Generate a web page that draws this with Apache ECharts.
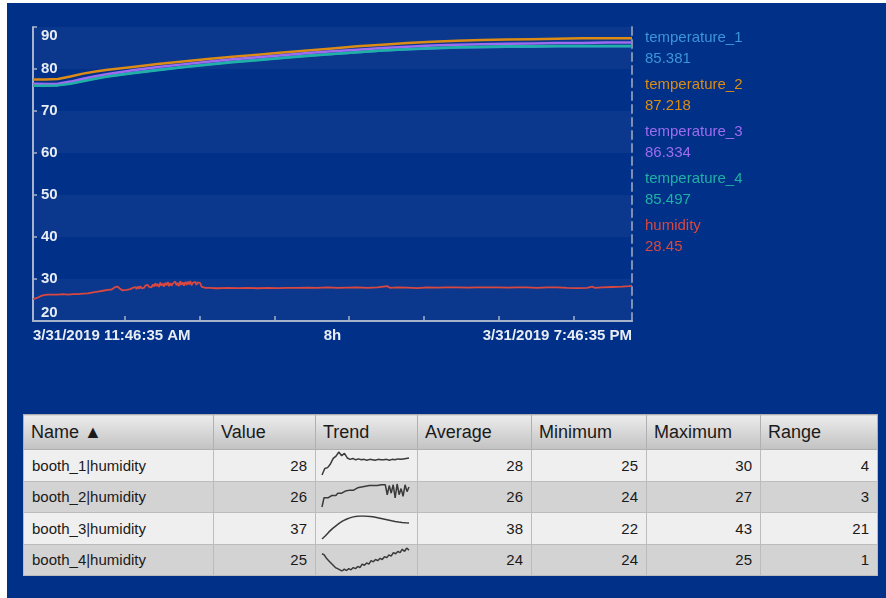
<!DOCTYPE html>
<html><head><meta charset="utf-8">
<script src="https://cdn.jsdelivr.net/npm/echarts@6/dist/echarts.min.js"></script>
<style>
html,body{margin:0;padding:0;background:#fff;width:886px;height:598px;overflow:hidden;font-family:"Liberation Sans",Arial,sans-serif;}
#panel{position:absolute;left:7px;top:3px;width:879px;height:595px;background:#003087;}
#chart{position:absolute;left:0;top:0;width:886px;height:598px;z-index:2;pointer-events:none;}
#tbl{position:absolute;left:23px;top:414px;z-index:1;border-collapse:collapse;table-layout:fixed;width:854px;border:1px solid #9c9c9c;color:#1a1a1a;}
#tbl th{height:35px;padding:0 0 0 7px;font-size:18px;font-weight:normal;text-align:left;background:linear-gradient(#ececec,#c2c2c2);border:1px solid #b0b0b0;box-sizing:border-box;}
#tbl td{height:31.5px;padding:0 8px;font-size:15px;border:1px solid #bcbcbc;box-sizing:border-box;}
#tbl td.num{text-align:right;}
#tbl tr.odd td{background:#efefef;}
#tbl tr.even td{background:#d3d3d3;}
</style></head>
<body>
<div id="panel"></div>
<table id="tbl"></table>
<div id="chart"></div>
<script>
// ---- main chart data (time in minutes from 3/31/2019 11:46:35 AM) ----
const seriesNames = ['temperature_1','temperature_2','temperature_3','temperature_4','humidity'];
const legendValues = ['85.381','87.218','86.334','85.497','28.45'];
const seriesColors = ['#3c94da','#dc8c14','#9d6cf0','#1fb0a6','#d84840'];
const tempTime = [0,10,20,30,40,50,60,80,100,120,140,160,180,200,220,240,260,280,300,320,340,360,380,400,420,440,460,480];
const temperature1 = [76.2,76.1,76.2,76.6,77.2,77.8,78.3,79.1,79.8,80.5,81.1,81.7,82.2,82.7,83.2,83.6,84.0,84.4,84.7,84.9,85.1,85.2,85.3,85.3,85.4,85.4,85.4,85.4];
const temperature2 = [77.5,77.5,77.6,78.2,78.9,79.4,79.8,80.5,81.2,81.8,82.4,82.9,83.4,83.9,84.4,84.9,85.4,85.8,86.2,86.5,86.7,86.9,87.0,87.1,87.2,87.3,87.3,87.3];
const temperature3 = [76.5,76.4,76.5,77.0,77.7,78.3,78.8,79.7,80.5,81.1,81.7,82.3,82.8,83.3,83.8,84.2,84.6,85.0,85.3,85.6,85.8,85.9,86.0,86.1,86.2,86.2,86.3,86.3];
const temperature4 = [76.0,76.0,76.1,76.5,77.1,77.7,78.2,79.0,79.7,80.4,81.0,81.6,82.1,82.6,83.1,83.6,84.0,84.4,84.7,85.0,85.2,85.3,85.4,85.4,85.5,85.5,85.5,85.5];
const humidity = [
 [0,25.2],[2,25.4],[4,25.6],[6,25.9],[8,26.1],[10,26.2],[12,26.3],[16,26.3],[20,26.3],[24,26.4],[28,26.3],[32,26.4],[36,26.4],[40,26.5],[44,26.6],[48,26.8],[52,27.0],[56,27.2],[60,27.4],[63,27.5],[66,28.1],[68,28.2],[70,27.6],[72,27.3],[75,27.4],[78,27.6],
 [80,27.9],[81,27.5],[82,28.1],[83,27.6],[84,28.2],[85,27.7],[86,28.3],[87,27.8],[88,28.2],[89,27.9],[90,28.4],[91,28.0],[92,28.6],[93,28.1],[94,28.5],[95,28.0],[96,28.7],[97,28.2],[98,29.0],[99,28.3],
 [100,28.8],[101,28.1],[102,29.2],[103,28.4],[104,28.9],[105,28.2],[106,29.1],[107,28.5],[108,29.3],[109,28.3],[110,29.0],[111,28.4],[112,28.9],[113,28.6],[114,29.4],[115,28.5],[116,29.1],[117,28.3],[118,29.5],[119,28.6],
 [120,29.2],[121,28.4],[122,29.3],[123,28.6],[124,29.4],[125,28.7],[126,29.5],[127,28.5],[128,29.1],[129,28.7],[130,29.3],[131,28.6],[132,29.2],[133,28.8],[134,29.0],[135,28.2],[136,28.0],[138,27.9],[142,27.9],[146,27.8],
 [148,27.8],[156,27.9],[164,27.85],[172,27.9],[180,27.8],[188,27.9],[196,27.85],[204,27.9],[212,27.9],[220,27.95],[228,27.9],[236,28.0],[244,27.9],[252,27.95],[260,28.0],[268,27.9],[276,28.0],[284,28.3],[286,27.9],[292,28.0],
 [300,27.95],[308,27.85],[316,28.0],[324,27.95],[332,28.0],[340,28.0],[348,27.95],[356,28.0],[364,28.0],[372,28.0],[380,27.95],[388,28.0],[396,28.0],[404,27.9],[412,28.0],[420,28.0],[428,27.9],[436,27.85],[444,27.9],[448,28.2],
 [450,27.9],[456,28.0],[464,28.1],[472,28.2],[478,28.3],[480,28.45]
];
// hour ticks (1 PM ... 7 PM) in minutes after 11:46:35 AM, and labelled positions
const hourTickMinutes = [73.417,133.417,193.417,253.417,313.417,373.417,433.417];
const xLabelMinutes = [0,240,480];
const xLabelTexts = ['3/31/2019 11:46:35 AM','8h','3/31/2019 7:46:35 PM'];

// ---- table data ----
const tableHeaders = ['Name \u25B2','Value','Trend','Average','Minimum','Maximum','Range'];
const columnWidths = [190,102,102,114,115,114,117];
const rowNames = ['booth_1|humidity','booth_2|humidity','booth_3|humidity','booth_4|humidity'];
const rowValues = [28,26,37,25];
const rowAverages = [28,26,38,24];
const rowMinimums = [25,24,22,24];
const rowMaximums = [30,27,43,25];
const rowRanges = [4,3,21,1];
const booth1Trend = [25.0,26.4,26.6,27.4,28.6,29.1,30.0,29.2,29.7,28.7,28.4,28.6,28.3,28.5,28.3,28.4,28.2,28.4,28.3,28.2,28.4,28.3,28.3,28.4,28.2,28.4,28.3,28.5,28.4,28.5,28.6,28.7];
const booth2Trend = [24.0,25.2,25.3,25.2,25.4,25.5,25.6,25.5,25.8,25.9,25.8,26.0,26.1,26.0,26.2,26.3,26.2,26.4,26.5,26.4,26.6,26.5,26.7,26.6,26.8,26.7,26.8,26.9,26.8,27.0,26.9,26.8,26.9,25.6,26.8,25.8,26.9,25.2,27.0,25.6,26.4,25.4,26.9,26.0,26.6];
const booth3Trend = [22,25,28.5,31.5,34,36.5,38.5,40,41.3,42.2,42.7,43,43,42.8,42.5,42,41.4,40.7,40,39.3,38.6,38,37.5,37.1,36.8,36.6];
const booth4Trend = [24.75,24.7,24.55,24.45,24.35,24.25,24.15,24.1,24.05,24.0,24.08,24.02,24.1,24.05,24.15,24.1,24.2,24.15,24.3,24.25,24.35,24.3,24.45,24.4,24.5,24.45,24.55,24.5,24.62,24.58,24.7,24.65,24.8,24.75,24.85,24.8,24.95,24.85,25.0,24.9];
const trends = [booth1Trend,booth2Trend,booth3Trend,booth4Trend];

// ---- build table ----
const tbl = document.getElementById('tbl');
let html = '<colgroup>' + columnWidths.map(w=>'<col style="width:'+w+'px">').join('') + '</colgroup>';
html += '<tr>' + tableHeaders.map(h=>'<th>'+h+'</th>').join('') + '</tr>';
rowNames.forEach((n,i)=>{
  html += '<tr class="'+(i%2===0?'odd':'even')+'"><td>'+n+'</td><td class="num">'+rowValues[i]+'</td><td></td><td class="num">'+rowAverages[i]+'</td><td class="num">'+rowMinimums[i]+'</td><td class="num">'+rowMaximums[i]+'</td><td class="num">'+rowRanges[i]+'</td></tr>';
});
tbl.innerHTML = html;

// ---- chart ----
const FONT = '"Liberation Sans", Arial, sans-serif';
const axisColor = '#a7b3cc';
const labelColor = '#e8ecf4';
const tempSeries = [temperature1,temperature2,temperature3,temperature4];

const grids = [{left:33, top:27, width:599, height:294}];
const xAxes = [{
  type:'value', gridIndex:0, min:0, max:480,
  axisLine:{show:true, lineStyle:{color:axisColor, width:2}},
  axisTick:{show:true, inside:true, length:5, customValues:hourTickMinutes, lineStyle:{color:axisColor, width:1.5}},
  splitLine:{show:false},
  axisLabel:{show:true, margin:7, color:labelColor, fontSize:15, fontWeight:'bold', fontFamily:FONT,
    customValues:xLabelMinutes,
    alignMinLabel:'left', alignMaxLabel:'right',
    formatter:(v)=>{ const k = xLabelMinutes.indexOf(v); return k>=0 ? xLabelTexts[k] : ''; }}
}];
const yAxes = [{
  type:'value', gridIndex:0, min:20, max:90, interval:10,
  axisLine:{show:true, lineStyle:{color:axisColor, width:2}},
  axisTick:{show:true, inside:true, length:4, lineStyle:{color:axisColor, width:1.5}},
  splitLine:{show:false},
  splitArea:{show:true, areaStyle:{color:['rgba(255,255,255,0.045)','rgba(0,0,0,0)']}},
  axisLabel:{show:true, inside:true, margin:8, color:labelColor, fontSize:15, fontFamily:FONT,
    formatter:(v)=> v===90 ? '{t|90}' : (v===20 ? '{b|20}' : '{n|'+v+'}'),
    rich:{
      t:{padding:[17,0,0,0], color:labelColor, fontSize:15, fontWeight:'bold', fontFamily:FONT},
      b:{padding:[0,0,16,0], color:labelColor, fontSize:15, fontWeight:'bold', fontFamily:FONT},
      n:{color:labelColor, fontSize:15, fontWeight:'bold', fontFamily:FONT}
    }}
},{
  type:'value', gridIndex:0, min:20, max:90, position:'right',
  axisLine:{show:true, lineStyle:{color:'#7d8fb5', width:2, type:[8,5]}},
  axisTick:{show:false}, axisLabel:{show:false}, splitLine:{show:false}
}];

const series = [];
tempSeries.forEach((arr,i)=>{
  series.push({name:seriesNames[i], type:'line', xAxisIndex:0, yAxisIndex:0, showSymbol:false, symbol:'none',
    lineStyle:{width:2.5, color:seriesColors[i]}, itemStyle:{color:seriesColors[i]},
    data: tempTime.map((t,k)=>[t, arr[k]]), animation:false, z:2+i});
});
series.push({name:seriesNames[4], type:'line', xAxisIndex:0, yAxisIndex:0, showSymbol:false, symbol:'none',
  lineStyle:{width:1.8, color:seriesColors[4]}, itemStyle:{color:seriesColors[4]},
  data: humidity, animation:false, z:7});

const sparkTops = [452,484,516,548];
trends.forEach((arr,i)=>{
  grids.push({left:322, top:sparkTops[i], width:87, height:23});
  xAxes.push({type:'category', gridIndex:i+1, show:false, boundaryGap:false, data:arr.map((_,k)=>k)});
  yAxes.push({type:'value', gridIndex:i+1, show:false, min:'dataMin', max:'dataMax', scale:true});
  series.push({name:'trend_'+(i+1), type:'line', xAxisIndex:i+1, yAxisIndex:i+2, showSymbol:false, symbol:'none',
    lineStyle:{width:1.5, color:'#3a3a3a'}, data:arr, animation:false});
});

const chart = echarts.init(document.getElementById('chart'), null, {renderer:'canvas'});
chart.setOption({
  animation:false,
  backgroundColor:'transparent',
  grid: grids,
  xAxis: xAxes,
  yAxis: yAxes,
  legend:{
    orient:'vertical', left:640, top:27, padding:0, itemGap:5, itemWidth:0, itemHeight:0,
    icon:'rect', selectedMode:false,
    textStyle:{fontSize:15, lineHeight:21, fontFamily:FONT},
    formatter:(n)=> n + '\n' + legendValues[seriesNames.indexOf(n)],
    data: seriesNames.map((n,i)=>({name:n, textStyle:{color:seriesColors[i]}, itemStyle:{opacity:0}}))
  },
  series: series
});
</script>
</body></html>
